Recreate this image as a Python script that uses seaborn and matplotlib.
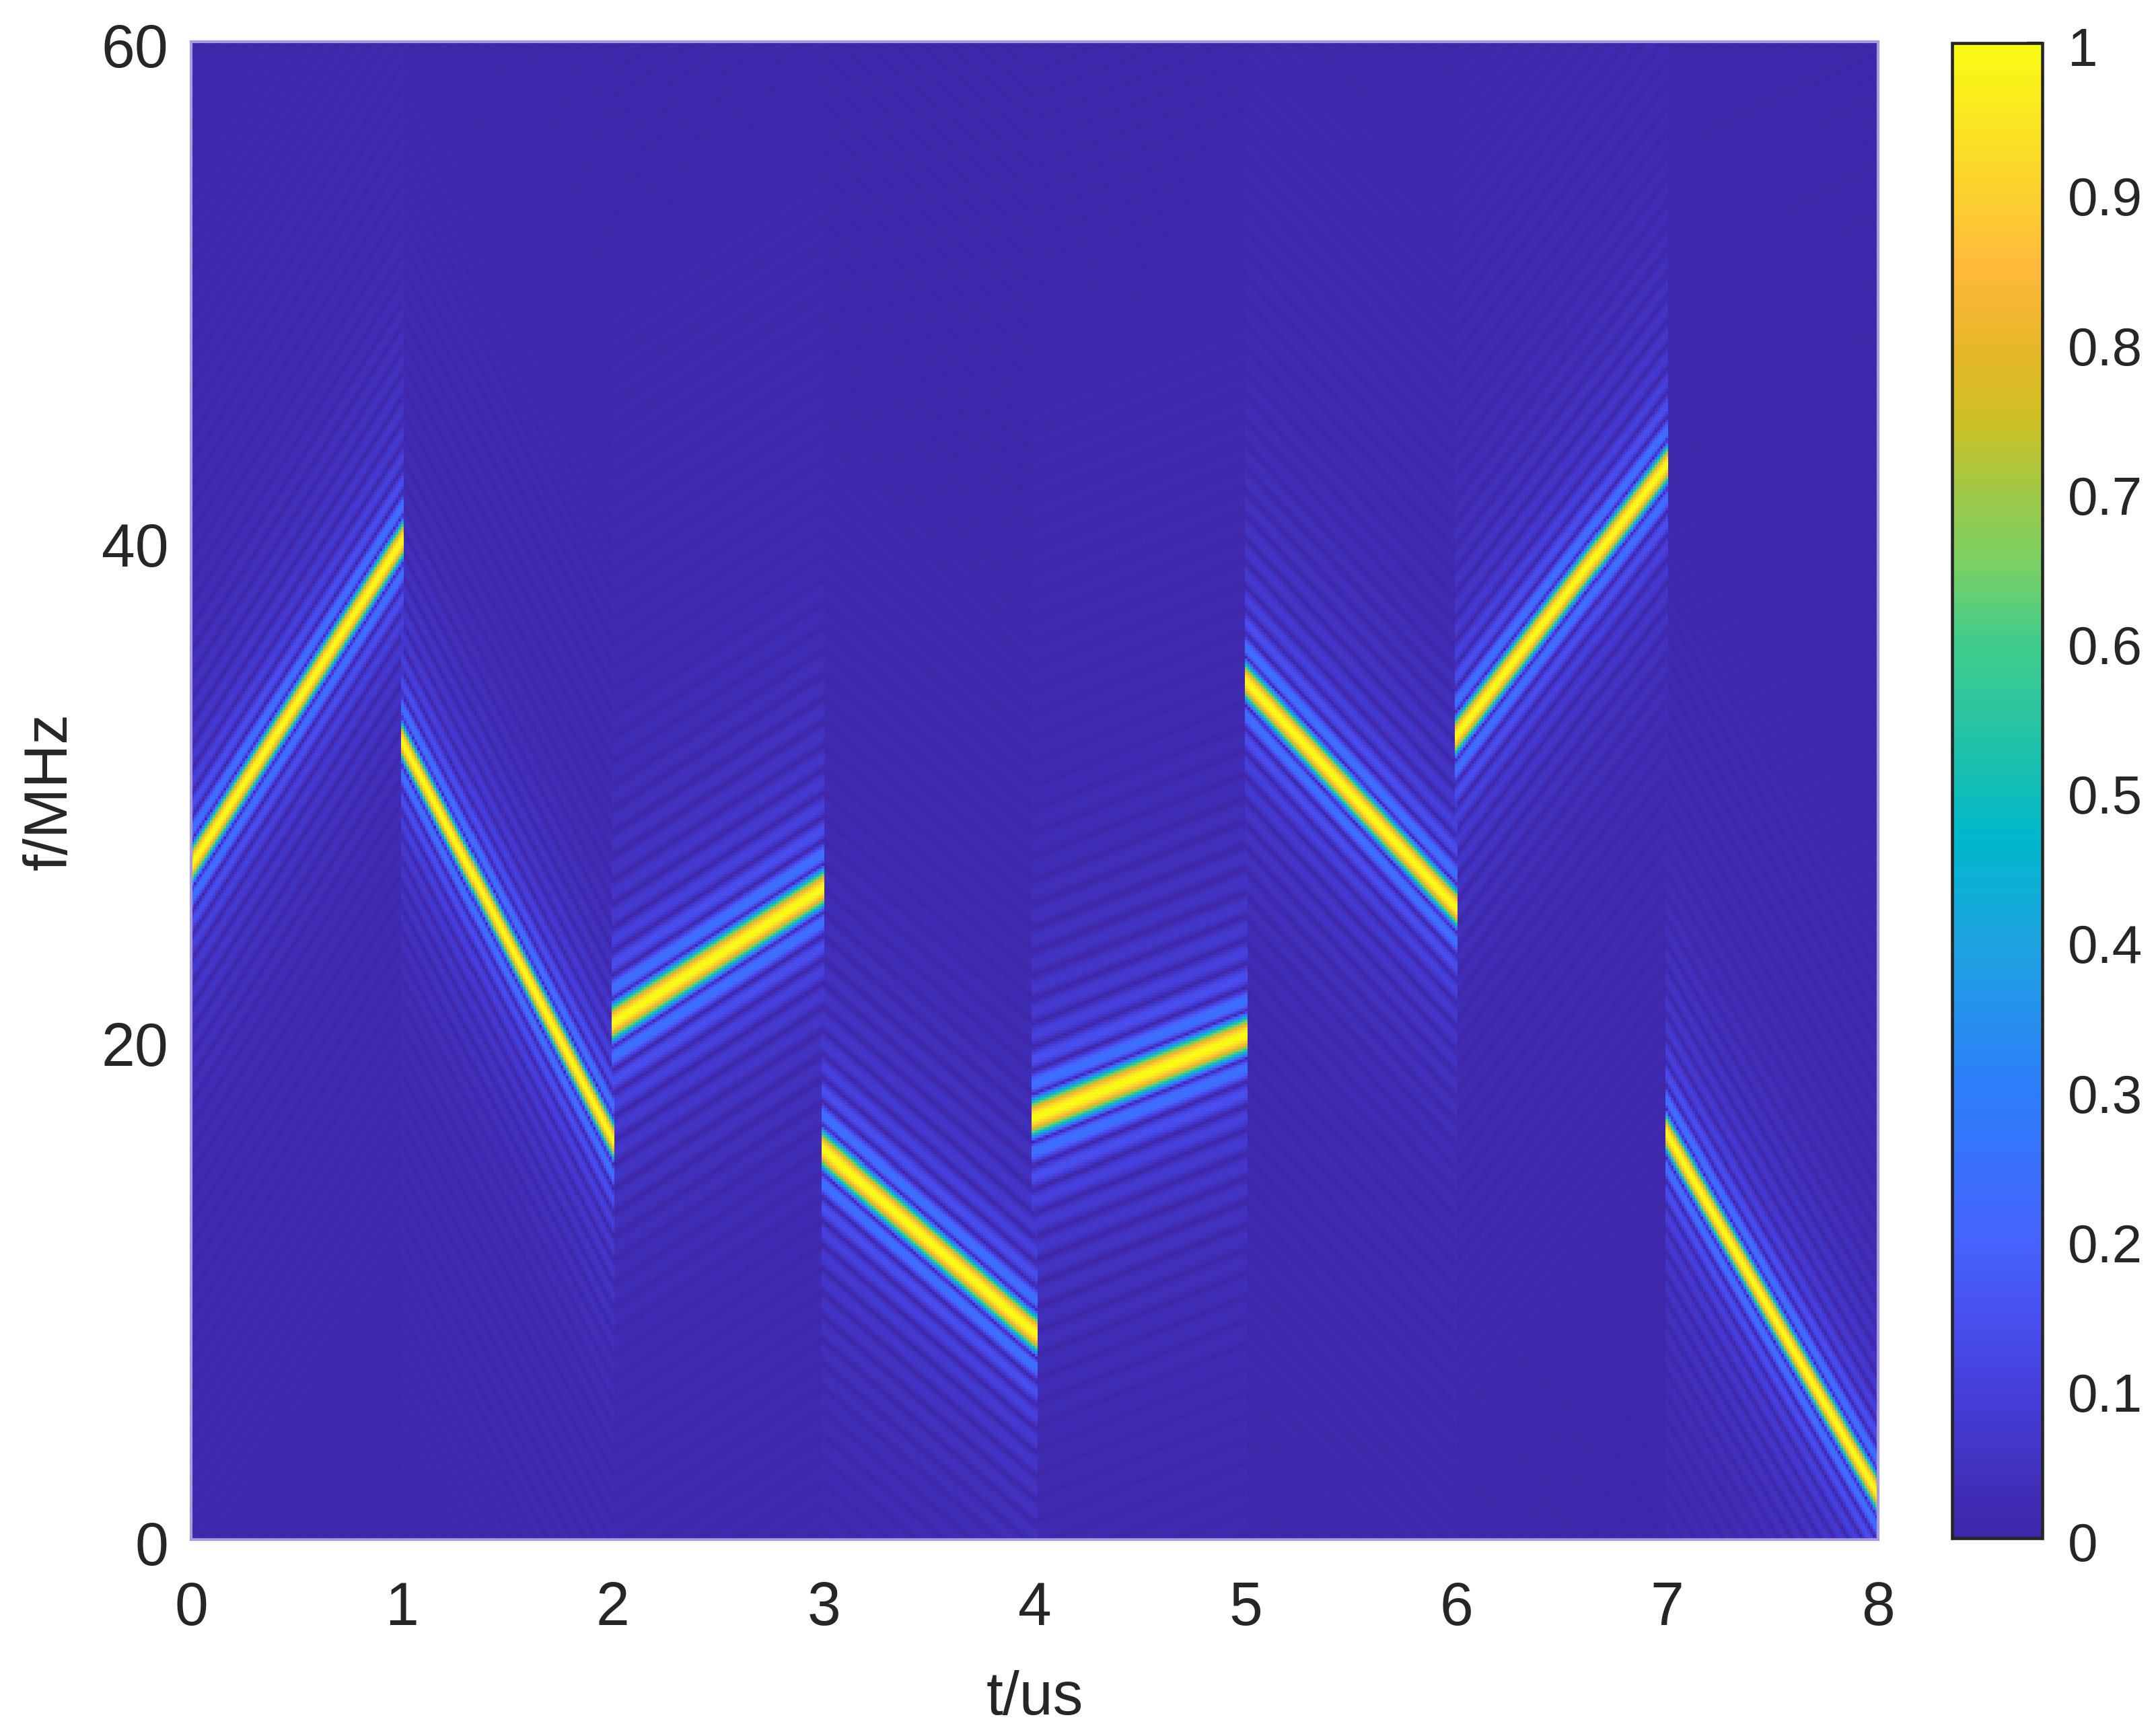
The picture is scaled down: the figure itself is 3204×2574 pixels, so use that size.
# Time-frequency map of a stepped chirp, with one linear ridge per 1 us slot
import numpy as np
import seaborn as sns
import matplotlib
import matplotlib.pyplot as plt
from matplotlib.colors import LinearSegmentedColormap
from matplotlib.transforms import ScaledTranslation

matplotlib.use('Agg')

# ridge start / end frequency of each slot (MHz)
slot_start = [27.0, 32.0, 20.7, 15.6, 16.9, 34.4, 32.2, 16.2]
slot_end = [40.0, 16.0, 26.1, 8.3, 20.2, 25.3, 43.1, 1.8]
lobe_rate = 1.05  # 1/MHz, sets how tight the sidelobes are
main_lobe_power = 0.75  # the main lobe is fatter than a plain sinc
side_lobe_gain = 1.15
slot_overlap = 0.008  # us

x_ticks = [0, 1, 2, 3, 4, 5, 6, 7, 8]
y_ticks = [0, 20, 40, 60]
cbar_ticks = [0, 0.1, 0.2, 0.3, 0.4, 0.5, 0.6, 0.7, 0.8, 0.9, 1]
cbar_labels = ['0', '0.1', '0.2', '0.3', '0.4', '0.5', '0.6', '0.7', '0.8', '0.9', '1']

# colours sampled from the reference colour bar
parula_stops = [(0.0, '#3e26a8'), (0.1, '#4640dc'), (0.15, '#4850f0'), (0.2, '#4664ff'),
                (0.3, '#2d7dfa'), (0.4, '#1ea5e0'), (0.47, '#00b8cc'), (0.5, '#12bdb8'),
                (0.6, '#42cc8c'), (0.65, '#78d066'), (0.7, '#a0c846'), (0.75, '#cfc024'),
                (0.8, '#e8b62a'), (0.85, '#ffb93c'), (0.9, '#fcd030'), (1.0, '#f9fb15')]
parula = LinearSegmentedColormap.from_list('parula', parula_stops, N=256)

t_max = 8
f_max = 60
n_t = 626
n_f = 556

t = (np.arange(n_t) + 0.5) * t_max / n_t
f = (np.arange(n_f) + 0.5) * f_max / n_f
tt, ff = np.meshgrid(t, f)

Z = np.zeros_like(tt)
for i in range(len(slot_start)):
    inside = (tt >= i - slot_overlap) & (tt <= i + 1 + slot_overlap)
    ridge = slot_start[i] + (slot_end[i] - slot_start[i]) * (tt - i)
    offset = lobe_rate * (ff - ridge)
    lobes = np.abs(np.sinc(offset))
    lobes = np.where(np.abs(offset) < 1, lobes ** main_lobe_power, lobes * side_lobe_gain)
    Z = np.where(inside, np.maximum(Z, lobes), Z)

sns.set_theme(style='white')
plt.rcParams['font.family'] = ['Liberation Sans', 'DejaVu Sans']
text_color = '#262626'
edge_color = '#a89cdc'

fig = plt.figure(figsize=(10.68, 8.5833), dpi=300)
W, H = 3204, 2575
ax = fig.add_axes([284 / W, 1 - 2289 / H, (2791 - 284) / W, (2289 - 63) / H])
cax = fig.add_axes([2901 / W, 1 - 2287 / H, (3035 - 2901) / W, (2287 - 65) / H])

sns.heatmap(Z, ax=ax, cbar_ax=cax, cmap=parula, vmin=0, vmax=1,
            xticklabels=False, yticklabels=False)
ax.invert_yaxis()

ax.set_xticks(np.array(x_ticks) * n_t / t_max)
ax.set_xticklabels(x_ticks, rotation=0)
ax.set_yticks(np.array(y_ticks) * n_f / f_max)
ax.set_yticklabels(y_ticks, rotation=0)
ax.tick_params(axis='both', length=0, labelsize=21.5, labelcolor=text_color)
ax.tick_params(axis='x', pad=14.5)
ax.tick_params(axis='y', pad=8)
ax.set_xlabel('t/us', fontsize=21.5, color=text_color, labelpad=11.5)
ax.set_ylabel('f/MHz', fontsize=21.5, color=text_color, labelpad=8)

for side in ax.spines:
    ax.spines[side].set_visible(True)
    ax.spines[side].set_color(edge_color)
    ax.spines[side].set_linewidth(1.0)

cbar = ax.collections[0].colorbar
cbar.set_ticks(cbar_ticks)
cbar.set_ticklabels(cbar_labels)
cax.tick_params(axis='y', direction='in', right=True, length=5.5, width=1.0,
                color=text_color, labelsize=19.2, labelcolor=text_color, pad=9)
cbar.outline.set_visible(True)
cbar.outline.set_edgecolor(text_color)
cbar.outline.set_linewidth(1.1)

# labels sit a little under their ticks in the original
nudge = ScaledTranslation(0, -1.0 / 72, fig.dpi_scale_trans)
for label in cax.get_yticklabels() + ax.get_yticklabels():
    label.set_transform(label.get_transform() + nudge)

fig.savefig('out.png', dpi=300, facecolor='white')
